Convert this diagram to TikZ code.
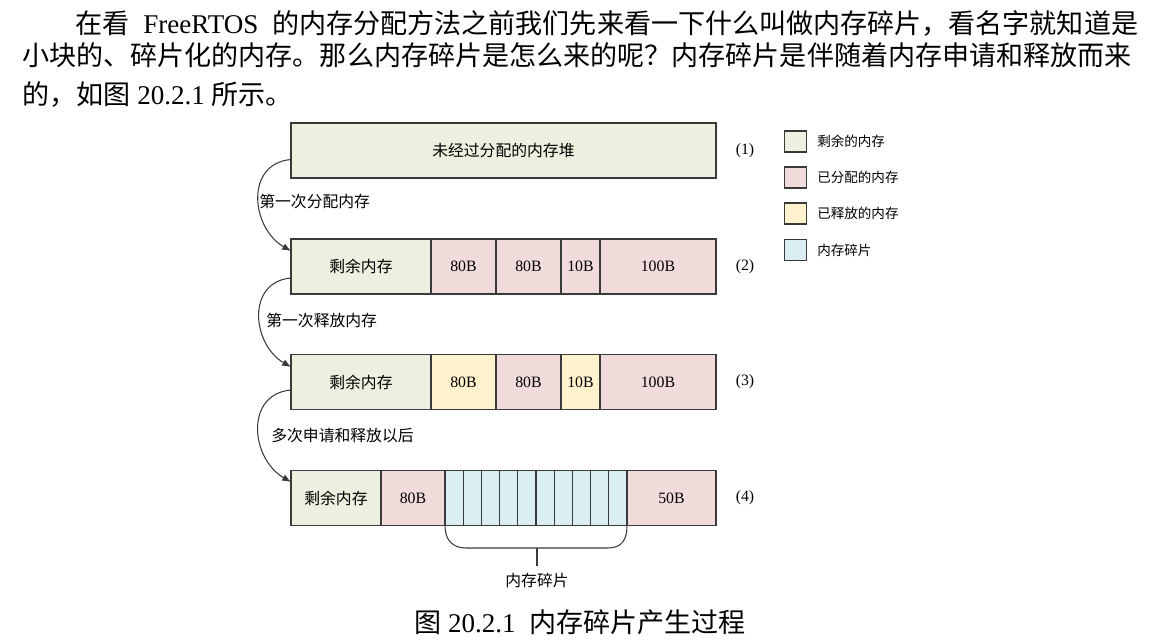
\documentclass[tikz,border=0pt]{standalone}
\usepackage{fontspec}
\setmainfont{Liberation Serif}
\newfontfamily\cjk{Noto Sans CJK SC}
\usetikzlibrary{arrows.meta}

\definecolor{linegray}{HTML}{3A3A3A}
\definecolor{freegreen}{HTML}{EBF1DE}
\definecolor{usedpink}{HTML}{F2DCDB}
\definecolor{relyellow}{HTML}{FFF2CC}
\definecolor{fragblue}{HTML}{DBEEF4}

\tikzset{
  cell/.style={draw=linegray, line width=0.7pt, outer sep=0pt, inner sep=0pt,
    minimum height=1.1cm, font=\fontsize{9}{11}\selectfont},
  freebox/.style={cell, fill=freegreen},
  usedbox/.style={cell, fill=usedpink},
  relbox/.style={cell, fill=relyellow},
  fragbox/.style={cell, fill=fragblue},
  tag/.style={font=\fontsize{9}{11}\selectfont},
  steplabel/.style={anchor=west, inner sep=0pt, font=\fontsize{9}{11}\selectfont\cjk},
  flow/.style={linegray, line width=0.6pt, -{Latex[length=5pt,width=4pt]}},
  legbox/.style={draw=linegray, line width=0.7pt, minimum width=0.44cm, minimum height=0.42cm, inner sep=0pt},
  legtext/.style={anchor=west, inner sep=0pt, font=\fontsize{7.7}{9}\selectfont\cjk},
  para/.style={anchor=west, inner sep=0pt, font=\fontsize{15.4}{18}\selectfont}
}

\begin{document}
\begin{tikzpicture}[x=0.02cm, y=0.02cm]
  \useasboundingbox (0,0) rectangle (1150,640);

  % Paragraph above the figure
  \node[para] (line1) at (75,617) {\makebox[21.26cm][s]{{\cjk 在看} FreeRTOS {\cjk 的内存分配方法之前我们先来看一下什么叫做内存碎片，看名字就知道是}}};
  \node[para] (line2) at (22,585) {\cjk 小块的、碎片化的内存。那么内存碎片是怎么来的呢？内存碎片是伴随着内存申请和释放而来};
  \node[para] (line3) at (22,545) {{\cjk 的，如图} 20.2.1 {\cjk 所示。}};

  % (1) Heap before any allocation
  \node[freebox, minimum width=8.5cm, anchor=west] (b1) at (291,489.5) {\cjk 未经过分配的内存堆};
  \node[tag] (t1) at (745,489.5) {(1)};

  % (2) After first allocation
  \node[freebox, minimum width=2.8cm, anchor=west] (b2a) at (291,373.5) {\cjk 剩余内存};
  \node[usedbox, minimum width=1.3cm, anchor=west] (b2b) at (b2a.east) {80B};
  \node[usedbox, minimum width=1.3cm, anchor=west] (b2c) at (b2b.east) {80B};
  \node[usedbox, minimum width=0.78cm, anchor=west] (b2d) at (b2c.east) {10B};
  \node[usedbox, minimum width=2.32cm, anchor=west] (b2e) at (b2d.east) {100B};
  \node[tag] (t2) at (745,373.5) {(2)};

  % (3) After first release
  \node[freebox, minimum width=2.8cm, anchor=west] (b3a) at (291,258) {\cjk 剩余内存};
  \node[relbox, minimum width=1.3cm, anchor=west] (b3b) at (b3a.east) {80B};
  \node[usedbox, minimum width=1.3cm, anchor=west] (b3c) at (b3b.east) {80B};
  \node[relbox, minimum width=0.78cm, anchor=west] (b3d) at (b3c.east) {10B};
  \node[usedbox, minimum width=2.32cm, anchor=west] (b3e) at (b3d.east) {100B};
  \node[tag] (t3) at (745,258) {(3)};

  % (4) After many allocations and releases
  \node[freebox, minimum width=1.8cm, anchor=west] (b4a) at (291,142) {\cjk 剩余内存};
  \node[usedbox, minimum width=1.28cm, anchor=west] (b4b) at (b4a.east) {80B};
  \foreach \i in {1,...,10}
    \node[fragbox, minimum width=0.364cm, anchor=west] (f\i) at ({445+(\i-1)*18.2},142) {};
  \node[usedbox, minimum width=1.78cm, anchor=west] (b4c) at (f10.east) {50B};
  \node[tag] (t4) at (745,142) {(4)};

  % Steps between the rows
  \draw[flow] ([yshift=-0.18cm]b1.west) to[out=185,in=150,looseness=1.3] ([yshift=0.31cm]b2a.west);
  \draw[flow] ([yshift=-0.23cm]b2a.west) to[out=185,in=150,looseness=1.3] ([yshift=0.3cm]b3a.west);
  \draw[flow] ([yshift=-0.16cm]b3a.west) to[out=185,in=150,looseness=1.3] ([yshift=0.32cm]b4a.west);
  \node[steplabel] (s1) at (259,439) {第一次分配内存};
  \node[steplabel] (s2) at (266,320) {第一次释放内存};
  \node[steplabel] (s3) at (271,204) {多次申请和释放以后};

  % Bracket under the fragments
  \coordinate (brmid) at (537,92);
  \node[font=\fontsize{9}{11}\selectfont\cjk] (fraglabel) at (537,60) {内存碎片};
  \draw[linegray, line width=0.6pt] (f1.south west) .. controls +(0,-14) and +(-14,0) .. (466,92)
    -- (608,92) .. controls +(14,0) and +(0,-14) .. (f10.south east);
  \draw[linegray, line width=0.6pt] (brmid) -- (fraglabel.north);

  % Legend
  \node[legbox, fill=freegreen] (k1) at (795.5,498.5) {};
  \node[legbox, fill=usedpink] (k2) at (795.5,462.5) {};
  \node[legbox, fill=relyellow] (k3) at (795.5,426.5) {};
  \node[legbox, fill=fragblue] (k4) at (795.5,390) {};
  \node[legtext] (k1t) at (817,498.5) {剩余的内存};
  \node[legtext] (k2t) at (817,462.5) {已分配的内存};
  \node[legtext] (k3t) at (817,426.5) {已释放的内存};
  \node[legtext] (k4t) at (817,390) {内存碎片};

  % Caption
  \node[font=\fontsize{15.4}{18}\selectfont] (cap) at (580,18) {{\cjk 图} 20.2.1\ \ {\cjk 内存碎片产生过程}};
\end{tikzpicture}
\end{document}
